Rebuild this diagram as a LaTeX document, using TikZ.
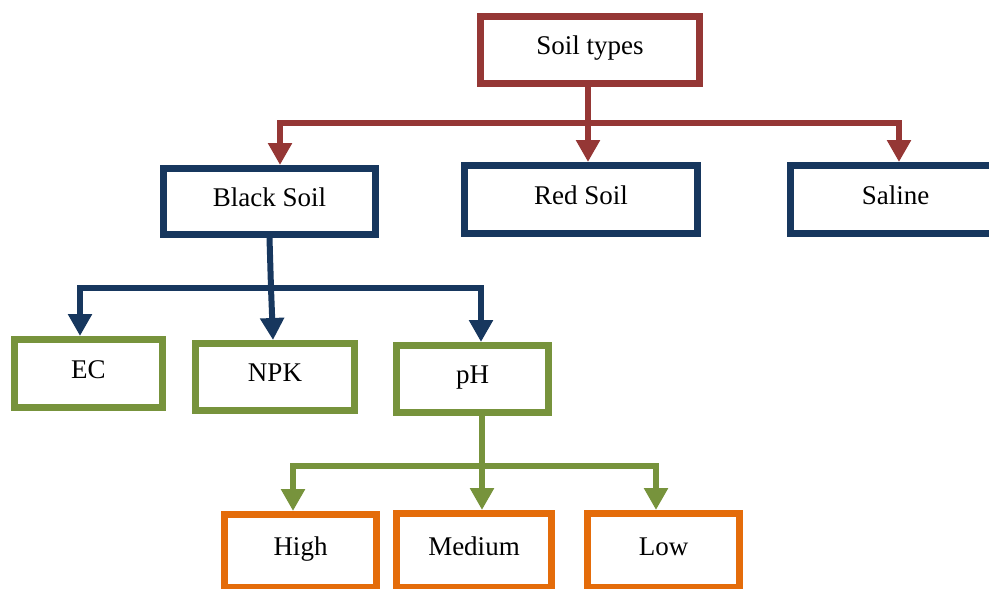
\documentclass[tikz,border=0pt]{standalone}
\usepackage{fontspec}
\setmainfont{Liberation Serif}
\definecolor{BoxRed}{HTML}{953735}
\definecolor{BoxBlue}{HTML}{17375E}
\definecolor{BoxGreen}{HTML}{77933C}
\definecolor{BoxOrange}{HTML}{E46C0A}
\usetikzlibrary{arrows.meta}

\tikzset{
    soilbox/.style={draw, line width=7pt, fill=white, inner sep=0pt,
        text height=17pt, text depth=7.2pt,
        font=\fontsize{27}{32}\selectfont},
    treeline/.style={line width=6pt},
    treearrow/.style={line width=6pt, -{Triangle[length=22pt, width=23pt]}}
}

\begin{document}
\begin{tikzpicture}[x=1pt, y=-1pt]

    \useasboundingbox (0,0) rectangle (989,589);

    % boxes
    \node [soilbox, draw=BoxRed, minimum width=219pt, minimum height=67pt] (Soil) at (590,50) {Soil types};

    \node [soilbox, draw=BoxBlue, minimum width=212pt, minimum height=66pt] (Black) at (269.5,201.5) {Black Soil};
    \node [soilbox, draw=BoxBlue, minimum width=233pt, minimum height=68pt] (Red) at (581,199.5) {Red Soil};
    \node [soilbox, draw=BoxBlue, minimum width=210pt, minimum height=68pt] (Saline) at (895.5,199.5) {Saline};

    \node [soilbox, draw=BoxGreen, minimum width=148pt, minimum height=68pt] (EC) at (88.5,373.5) {EC};
    \node [soilbox, draw=BoxGreen, minimum width=159pt, minimum height=67pt] (NPK) at (275,377) {NPK};
    \node [soilbox, draw=BoxGreen, minimum width=152pt, minimum height=67pt] (PH) at (472.5,379) {pH};

    \node [soilbox, draw=BoxOrange, minimum width=152pt, minimum height=73pt] (High) at (300.5,551) {High};
    \node [soilbox, draw=BoxOrange, minimum width=155pt, minimum height=74pt] (Medium) at (474,550.5) {Medium};
    \node [soilbox, draw=BoxOrange, minimum width=152pt, minimum height=74pt] (Low) at (663.5,550.5) {Low};

    % junctions
    \coordinate (RJ) at (588,123);
    \coordinate (BJ) at (271,288);
    \coordinate (GJ) at (482,466);

    % red connectors
    \draw [treeline, BoxRed] ([xshift=-2pt]Soil.south) -- (RJ);
    \draw [treearrow, BoxRed] (RJ) -| ([xshift=10.5pt]Black.north);
    \draw [treearrow, BoxRed] (RJ) -- ([xshift=7pt]Red.north);
    \draw [treearrow, BoxRed] (RJ) -| ([xshift=3.5pt]Saline.north);

    % blue connectors
    \draw [treeline, BoxBlue] (Black.south) -- (BJ);
    \draw [treearrow, BoxBlue] (BJ) -| ([xshift=-8.5pt]EC.north);
    \draw [treearrow, BoxBlue] (BJ) -- ([xshift=-2pt]NPK.north);
    \draw [treearrow, BoxBlue] (BJ) -| ([xshift=8.5pt]PH.north);

    % green connectors
    \draw [treeline, BoxGreen] ([xshift=9.5pt]PH.south) -- (GJ);
    \draw [treearrow, BoxGreen] (GJ) -| ([xshift=-7.5pt]High.north);
    \draw [treearrow, BoxGreen] (GJ) -- ([xshift=8pt]Medium.north);
    \draw [treearrow, BoxGreen] (GJ) -| ([xshift=-7.5pt]Low.north);

\end{tikzpicture}
\end{document}
